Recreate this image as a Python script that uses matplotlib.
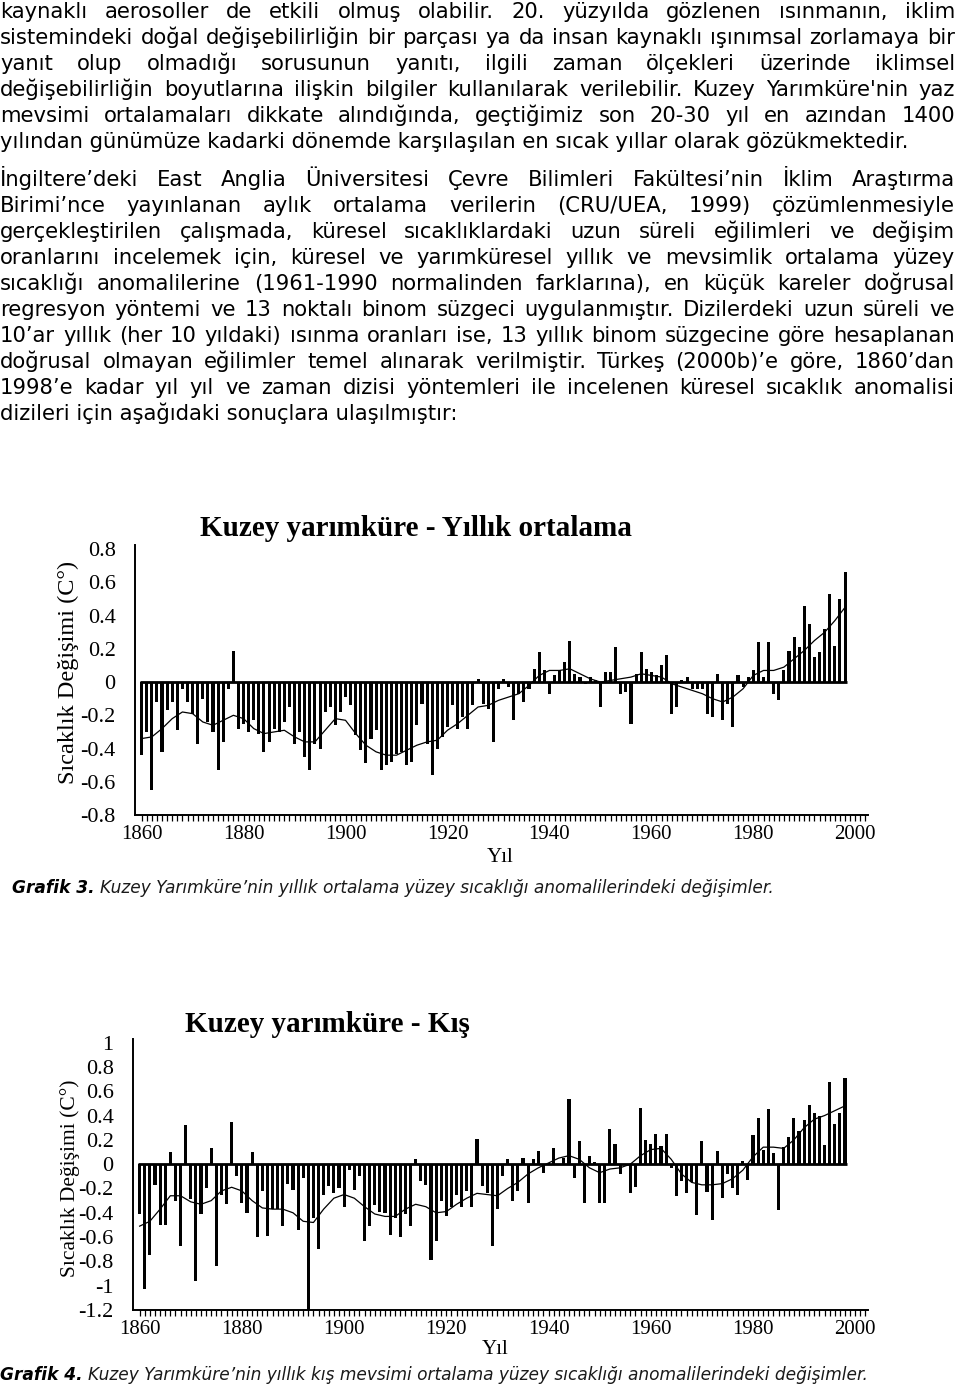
import matplotlib
matplotlib.use('Agg')
import matplotlib.pyplot as plt

plt.rcParams['axes.unicode_minus'] = False

W, H = 960, 1385

# ---- data ----
years = list(range(1860, 1999))
smooth_years = list(range(1860, 1999, 2))

annual = [
    -0.44, -0.30, -0.65, -0.12, -0.42, -0.17, -0.12, -0.29, -0.04, -0.12,
    -0.19, -0.37, -0.10, -0.24, -0.30, -0.53, -0.36, -0.04, 0.19, -0.28,
    -0.25, -0.30, -0.23, -0.31, -0.42, -0.36, -0.28, -0.30, -0.24, -0.15,
    -0.37, -0.30, -0.45, -0.53, -0.37, -0.40, -0.18, -0.15, -0.26, -0.18,
    -0.09, -0.14, -0.32, -0.41, -0.49, -0.34, -0.29, -0.53, -0.50, -0.48,
    -0.43, -0.42, -0.50, -0.48, -0.26, -0.13, -0.37, -0.56, -0.40, -0.33,
    -0.27, -0.14, -0.28, -0.21, -0.28, -0.14, 0.02, -0.13, -0.16, -0.36,
    -0.04, 0.02, -0.03, -0.23, -0.07, -0.12, -0.04, 0.08, 0.18, 0.07,
    -0.07, 0.04, 0.07, 0.12, 0.25, 0.05, 0.03, -0.01, 0.03, 0.01,
    -0.15, 0.06, 0.06, 0.21, -0.07, -0.06, -0.25, 0.05, 0.18, 0.08,
    0.06, 0.04, 0.10, 0.16, -0.19, -0.15, 0.01, 0.03, -0.04, -0.04,
    -0.04, -0.19, -0.21, 0.05, -0.23, -0.13, -0.27, 0.04, -0.03, 0.03,
    0.07, 0.24, 0.03, 0.24, -0.07, -0.11, 0.07, 0.19, 0.27, 0.21,
    0.46, 0.35, 0.15, 0.18, 0.32, 0.53, 0.22, 0.50, 0.66,
]
annual_smooth = [
    -0.34, -0.33, -0.28, -0.22, -0.18, -0.19, -0.24, -0.26, -0.23, -0.20,
    -0.22, -0.28, -0.31, -0.30, -0.29, -0.33, -0.36, -0.36, -0.29, -0.22,
    -0.23, -0.31, -0.38, -0.42, -0.44, -0.44, -0.41, -0.38, -0.36, -0.35,
    -0.29, -0.25, -0.20, -0.15, -0.14, -0.11, -0.09, -0.07, -0.02, 0.04,
    0.07, 0.07, 0.08, 0.05, 0.02, 0.00, 0.01, 0.02, 0.03, 0.05,
    0.04, 0.03, -0.01, -0.03, -0.05, -0.07, -0.10, -0.12, -0.09, -0.04,
    0.04, 0.07, 0.07, 0.09, 0.14, 0.19, 0.25, 0.30, 0.37, 0.45,
]

winter = [
    -0.41, -1.03, -0.75, -0.17, -0.50, -0.50, 0.10, -0.30, -0.67, 0.32,
    -0.29, -0.96, -0.41, -0.20, 0.13, -0.84, -0.25, -0.33, 0.35, -0.10,
    -0.32, -0.40, 0.10, -0.60, -0.22, -0.59, -0.37, -0.37, -0.51, -0.16,
    -0.21, -0.54, -0.11, -1.20, -0.44, -0.70, -0.25, -0.18, -0.24, -0.20,
    -0.35, -0.05, -0.21, -0.10, -0.63, -0.51, -0.34, -0.39, -0.40, -0.58,
    -0.44, -0.60, -0.41, -0.51, 0.04, -0.14, -0.17, -0.79, -0.63, -0.30,
    -0.43, -0.35, -0.25, -0.35, -0.22, -0.35, 0.21, -0.18, -0.24, -0.67,
    -0.37, -0.10, 0.04, -0.30, -0.22, 0.05, -0.32, 0.04, 0.11, -0.07,
    0.01, 0.13, -0.01, 0.05, 0.54, -0.11, 0.19, -0.32, 0.07, 0.02,
    -0.32, -0.32, 0.29, 0.17, -0.08, -0.01, -0.24, -0.19, 0.46, 0.20,
    0.17, 0.25, 0.15, 0.25, -0.03, -0.26, -0.14, -0.24, -0.15, -0.42,
    0.19, -0.23, -0.46, 0.11, -0.28, -0.08, -0.20, -0.25, 0.03, -0.13,
    0.24, 0.38, 0.12, 0.45, 0.09, -0.38, 0.14, 0.22, 0.38, 0.27,
    0.36, 0.49, 0.42, 0.40, 0.16, 0.68, 0.33, 0.42, 0.71,
]
winter_smooth = [
    -0.51, -0.47, -0.37, -0.26, -0.26, -0.31, -0.33, -0.30, -0.22, -0.19,
    -0.22, -0.30, -0.36, -0.37, -0.37, -0.40, -0.47, -0.48, -0.37, -0.28,
    -0.25, -0.28, -0.35, -0.41, -0.43, -0.43, -0.37, -0.33, -0.35, -0.40,
    -0.39, -0.33, -0.28, -0.24, -0.25, -0.26, -0.20, -0.15, -0.08, -0.03,
    0.01, 0.05, 0.07, 0.04, -0.03, -0.07, -0.04, -0.03, 0.00, 0.07,
    0.12, 0.13, 0.04, -0.08, -0.15, -0.17, -0.17, -0.16, -0.12, -0.05,
    0.06, 0.14, 0.14, 0.13, 0.20, 0.30, 0.37, 0.40, 0.44, 0.48,
]

annual_yticks = [0.8, 0.6, 0.4, 0.2, 0, -0.2, -0.4, -0.6, -0.8]
winter_yticks = [1, 0.8, 0.6, 0.4, 0.2, 0, -0.2, -0.4, -0.6, -0.8, -1, -1.2]
xticks = [1860, 1880, 1900, 1920, 1940, 1960, 1980, 2000]

# ---- page text ----
para1 = [
    "kaynaklı aerosoller de etkili olmuş olabilir. 20. yüzyılda gözlenen ısınmanın, iklim",
    "sistemindeki doğal değişebilirliğin bir parçası ya da insan kaynaklı ışınımsal zorlamaya bir",
    "yanıt olup olmadığı sorusunun yanıtı, ilgili zaman ölçekleri üzerinde iklimsel",
    "değişebilirliğin boyutlarına ilişkin bilgiler kullanılarak verilebilir. Kuzey Yarımküre'nin yaz",
    "mevsimi ortalamaları dikkate alındığında, geçtiğimiz son 20-30 yıl en azından 1400",
    "yılından günümüze kadarki dönemde karşılaşılan en sıcak yıllar olarak gözükmektedir.",
]
para2 = [
    "İngiltere’deki East Anglia Üniversitesi Çevre Bilimleri Fakültesi’nin İklim Araştırma",
    "Birimi’nce yayınlanan aylık ortalama verilerin (CRU/UEA, 1999) çözümlenmesiyle",
    "gerçekleştirilen çalışmada, küresel sıcaklıklardaki uzun süreli eğilimleri ve değişim",
    "oranlarını incelemek için, küresel ve yarımküresel yıllık ve mevsimlik ortalama yüzey",
    "sıcaklığı anomalilerine (1961-1990 normalinden farklarına), en küçük kareler doğrusal",
    "regresyon yöntemi ve 13 noktalı binom süzgeci uygulanmıştır. Dizilerdeki uzun süreli ve",
    "10’ar yıllık (her 10 yıldaki) ısınma oranları ise, 13 yıllık binom süzgecine göre hesaplanan",
    "doğrusal olmayan eğilimler temel alınarak verilmiştir. Türkeş (2000b)’e göre, 1860’dan",
    "1998’e kadar yıl yıl ve zaman dizisi yöntemleri ile incelenen küresel sıcaklık anomalisi",
    "dizileri için aşağıdaki sonuçlara ulaşılmıştır:",
]
cap3 = ('Grafik 3.', 'Kuzey Yarımküre’nin yıllık ortalama yüzey sıcaklığı anomalilerindeki değişimler.')
cap4 = ('Grafik 4.', 'Kuzey Yarımküre’nin yıllık kış mevsimi ortalama yüzey sıcaklığı anomalilerindeki değişimler.')

fig = plt.figure(figsize=(W / 100, H / 100), dpi=100)
renderer = fig.canvas.get_renderer()


def width_px(s, **kw):
    t = fig.text(0, 0, s, **kw)
    w = t.get_window_extent(renderer).width
    t.remove()
    return w


body_font = dict(family='DejaVu Sans', color='black')
# size the body font so the short last line is as wide as in the page
size = 12 * 457 / width_px(para2[-1], fontsize=12, **body_font)
body_font['fontsize'] = size
base_off = size * 100 / 72 * 0.36   # centre of lowercase/caps -> baseline


def put_line(line, y, justify, x0=0, x1=955):
    yb = 1 - (y + base_off) / H
    if not justify:
        fig.text(x0 / W, yb, line, va='baseline', ha='left', **body_font)
        return
    words = line.split(' ')
    ws = [width_px(w, **body_font) for w in words]
    gap = (x1 - x0 - sum(ws)) / (len(words) - 1)
    x = x0
    for w, wd in zip(words, ws):
        fig.text(x / W, yb, w, va='baseline', ha='left', **body_font)
        x += wd + gap


for i, line in enumerate(para1):
    put_line(line, 10 + 26 * i, i < len(para1) - 1)
for i, line in enumerate(para2):
    put_line(line, 178 + 26 * i, i < len(para2) - 1)

# ---- charts ----
serif = 'Liberation Serif'


def draw_chart(rect, values, smooth, ylim, yticks):
    ax = fig.add_axes(rect)
    ax.bar(years, values, width=0.6, color='black', linewidth=0)
    ax.plot(smooth_years, smooth, color='black', lw=0.9)
    ax.hlines(0, 1859.6, 1998.4, color='black', lw=2)
    ax.set_xlim(1858.7, 2002.5)
    ax.set_ylim(*ylim)
    ax.spines['top'].set_visible(False)
    ax.spines['right'].set_visible(False)
    ax.spines['left'].set_linewidth(1.4)
    ax.spines['bottom'].set_linewidth(1.4)
    ax.set_xticks(xticks)
    ax.set_xticks(range(1860, 2003), minor=True)
    ax.set_xticklabels([str(v) for v in xticks], fontfamily=serif, fontsize=15)
    ax.set_yticks(yticks)
    ax.set_yticklabels([f'{v:g}' for v in yticks], fontfamily=serif, fontsize=16)
    ax.tick_params(axis='x', which='both', direction='out', length=4, width=0.9, pad=3)
    ax.tick_params(axis='y', length=0, pad=14)
    return ax


ax1 = draw_chart([135 / W, 1 - 815 / H, 733 / W, 270 / H], annual, annual_smooth,
                 (-0.8, 0.825), annual_yticks)
ax2 = draw_chart([133 / W, 1 - 1310 / H, 735 / W, 271 / H], winter, winter_smooth,
                 (-1.2, 1.03), winter_yticks)

fig.text(416 / W, 1 - 528 / H, 'Kuzey yarımküre - Yıllık ortalama', ha='center', va='center',
         fontfamily=serif, fontweight='bold', fontsize=21)
fig.text(327 / W, 1 - 1025 / H, 'Kuzey yarımküre - Kış', ha='center', va='center',
         fontfamily=serif, fontweight='bold', fontsize=21)

fig.text(68 / W, 1 - 672 / H, 'Sıcaklık Değişimi (C°)', rotation=90, ha='center', va='center',
         fontfamily=serif, fontsize=17.5)
fig.text(70 / W, 1 - 1178 / H, 'Sıcaklık Değişimi (C°)', rotation=90, ha='center', va='center',
         fontfamily=serif, fontsize=15.5)

fig.text(500 / W, 1 - 857 / H, 'Yıl', ha='center', va='center', fontfamily=serif, fontsize=15)
fig.text(495 / W, 1 - 1349 / H, 'Yıl', ha='center', va='center', fontfamily=serif, fontsize=15)

# ---- captions ----
cap_kw = dict(family='DejaVu Sans', style='italic')
full3 = (width_px(cap3[0] + ' ', fontsize=12, fontweight='bold', **cap_kw)
         + width_px(cap3[1], fontsize=12, **cap_kw))
cap_size = 12 * 760 / full3
cap_kw['fontsize'] = cap_size


def caption(x, y, label, rest):
    yb = 1 - (y + base_off * cap_size / size) / H
    fig.text(x / W, yb, label, va='baseline', ha='left', fontweight='bold', color='black', **cap_kw)
    lw = width_px(label + ' ', fontweight='bold', **cap_kw)
    fig.text((x + lw) / W, yb, rest, va='baseline', ha='left', color='#1a1a1a', **cap_kw)


caption(12, 887, *cap3)
caption(0, 1374, *cap4)

fig.savefig('out.png', dpi=100, facecolor='white')
